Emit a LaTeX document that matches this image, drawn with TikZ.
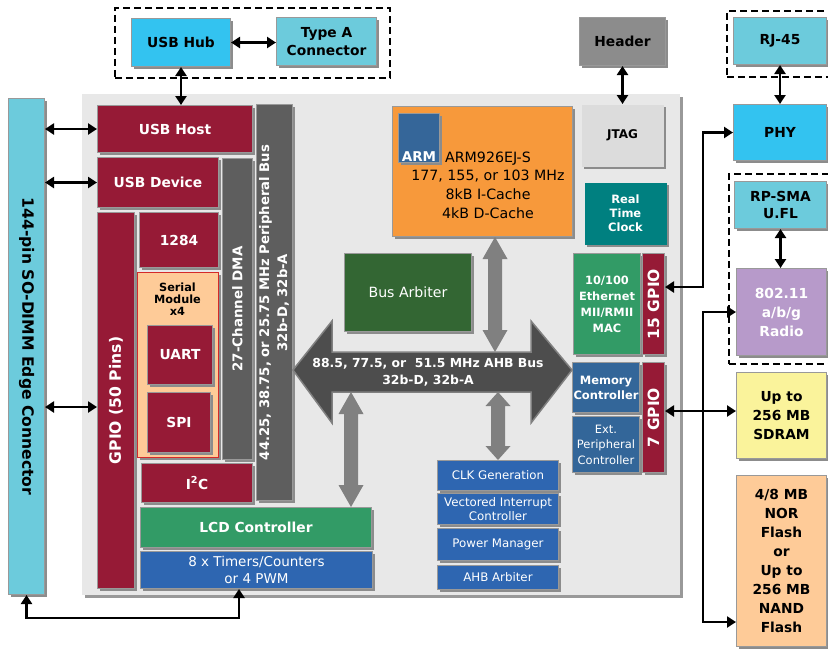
\documentclass[tikz,border=0pt]{standalone}
\usepackage{fontspec}
\setmainfont{DejaVu Sans}
\usetikzlibrary{shadows,arrows.meta,calc}

\definecolor{mcred}{HTML}{961A36}
\definecolor{usbcyan}{HTML}{33C3F0}
\definecolor{conncyan}{HTML}{6CCBDC}
\definecolor{armorange}{HTML}{F7993B}
\definecolor{armblue}{HTML}{356699}
\definecolor{hdrgray}{HTML}{8C8C8C}
\definecolor{jtaggray}{HTML}{DCDCDC}
\definecolor{rtcteal}{HTML}{008080}
\definecolor{ethgreen}{HTML}{329B66}
\definecolor{arbgreen}{HTML}{336633}
\definecolor{memblue}{HTML}{336699}
\definecolor{sysblue}{HTML}{2E66B1}
\definecolor{busgray}{HTML}{5E5E5E}
\definecolor{ahbgray}{HTML}{4D4D4D}
\definecolor{fatgray}{HTML}{808080}
\definecolor{panelgray}{HTML}{E8E8E8}
\definecolor{radiopurple}{HTML}{B79ACA}
\definecolor{sdramyellow}{HTML}{FAF39B}
\definecolor{flashpeach}{HTML}{FECB98}
\definecolor{serialred}{HTML}{D42A2A}

\tikzset{
  blk/.style={anchor=north west, draw=black!40, line width=1pt, inner sep=0pt, align=center,
    drop shadow={shadow xshift=2.5pt, shadow yshift=-2.5pt, opacity=1, fill=black!45}},
  sz/.style 2 args={minimum width=#1pt, minimum height=#2pt},
  wt/.style={text=white},
  bfL/.style={font=\fontsize{13.8}{17.5}\selectfont\bfseries},
  bfXL/.style={font=\fontsize{15.6}{18}\selectfont\bfseries},
  bfM/.style={font=\fontsize{11.5}{15}\selectfont\bfseries},
  rgL/.style={font=\fontsize{14.2}{18.7}\selectfont},
  rgS/.style={font=\fontsize{11.8}{15}\selectfont},
  arr/.style={line width=2.8pt, {Triangle[length=9pt,width=11pt]}-{Triangle[length=9pt,width=11pt]}},
  dbox/.style={draw, line width=1.8pt, dash pattern=on 7pt off 4pt, anchor=north west, inner sep=0pt},
}

% thick gray double arrow between two points on one vertical
\newcommand{\fatarrow}[3][22]{%
  \fill[fatgray] (#2) -- ($(#2)+(12.5,#1)$) -- ($(#2)+(7,#1)$) -- ($(#3)+(7,-#1)$)
    -- ($(#3)+(12.5,-#1)$) -- (#3) -- ($(#3)+(-12.5,-#1)$) -- ($(#3)+(-7,-#1)$)
    -- ($(#2)+(-7,#1)$) -- ($(#2)+(-12.5,#1)$) -- cycle;}

\begin{document}
\begin{tikzpicture}[x=1pt,y=-1pt]
  \useasboundingbox (0,0) rectangle (828,649);

  % groups and module panel
  \node[dbox, sz={275}{70}] (usbgrp) at (114,7) {};
  \node[dbox, sz={120}{66}] (ethgrp) at (726,10) {};
  \node[dbox, sz={120}{190}] (wlangrp) at (728,173) {};
  \node[anchor=north west, inner sep=0pt, fill=panelgray, sz={598}{501},
    drop shadow={shadow xshift=2.5pt, shadow yshift=-2.5pt, opacity=1, fill=black!40}] (panel) at (82,94) {};

  % outside parts
  \node[blk, fill=usbcyan, sz={99}{48}, bfL] (hub) at (131,18) {USB Hub};
  \node[blk, fill=conncyan, sz={100}{48}, bfL] (typea) at (276,17) {Type A\\Connector};
  \node[blk, fill=conncyan, sz={36}{496}, bfXL] (conn) at (8,98) {\rotatebox{-90}{144-pin SO-DIMM Edge Connector}};
  \node[blk, fill=hdrgray, sz={86}{48}, bfL] (header) at (579,17) {Header};
  \node[blk, fill=conncyan, sz={93}{47}, bfL] (rj45) at (733,17) {RJ-45};
  \node[blk, fill=usbcyan, sz={93}{56}, bfL] (phy) at (733,104) {PHY};
  \node[blk, fill=conncyan, sz={92}{47}, bfL] (rpsma) at (734,181) {RP-SMA\\U.FL};
  \node[blk, fill=radiopurple, sz={90}{87}, wt, font=\fontsize{13.8}{19}\selectfont\bfseries] (radio) at (736,268) {802.11\\a/b/g\\Radio};
  \node[blk, fill=sdramyellow, sz={90}{86}, font=\fontsize{13.8}{19}\selectfont\bfseries] (sdram) at (736,372) {Up to\\256 MB\\SDRAM};
  \node[blk, fill=flashpeach, sz={90}{171}, font=\fontsize{13.8}{19}\selectfont\bfseries] (flash) at (736,475) {4/8 MB\\NOR\\Flash\\or\\Up to\\256 MB\\NAND\\Flash};

  % left side peripherals
  \node[blk, fill=mcred, sz={155}{47}, bfL, wt] (usbhost) at (97,105) {USB Host};
  \node[blk, fill=busgray, sz={36}{396}, wt, font=\fontsize{13.2}{18}\selectfont\bfseries] (pbus) at (256,104)
    {\rotatebox{90}{\begin{tabular}{@{}c@{}}44.25, 38.75, or 25.75 MHz Peripheral Bus\\32b-D, 32b-A\end{tabular}}};
  \node[blk, fill=mcred, sz={121}{50}, bfL, wt] (usbdev) at (97,157) {USB Device};
  \node[blk, fill=busgray, sz={30}{301}, wt, font=\fontsize{13.4}{16}\selectfont\bfseries] (dma) at (222,158) {\rotatebox{90}{27-Channel DMA}};
  \node[blk, fill=mcred, sz={37}{376}, bfXL, wt] (gpio) at (97,212) {\rotatebox{90}{GPIO (50 Pins)}};
  \node[blk, fill=mcred, sz={79}{55}, bfL, wt] (p1284) at (139,212) {1284};
  \node[blk, fill=flashpeach, draw=serialred, sz={81}{185}] (serial) at (137,272) {};
  \node[font=\fontsize{11.3}{12.3}\selectfont\bfseries, align=center] (serialtxt) at (177.5,299) {Serial\\Module\\x4};
  \node[blk, fill=mcred, sz={65}{59}, bfL, wt] (uart) at (147,325) {UART};
  \node[blk, fill=mcred, sz={63}{60}, bfL, wt] (spi) at (147,392) {SPI};
  \node[blk, fill=mcred, sz={111}{39}, bfL, wt] (i2c) at (141,463) {I\textsuperscript{2}C};
  \node[blk, fill=ethgreen, sz={231}{40}, bfL, wt] (lcd) at (140,507) {LCD Controller};
  \node[blk, fill=sysblue, sz={232}{37}, wt, font=\fontsize{13.5}{17}\selectfont] (timers) at (140,551) {8 x Timers/Counters\\or 4 PWM};

  % core
  \node[blk, fill=armorange, sz={180}{130}] (arm) at (392,106) {};
  \node[blk, fill=armblue, sz={41}{49}] (armlogo) at (398,113) {};
  \node[wt, font=\fontsize{13.5}{16}\selectfont\bfseries, anchor=south, inner sep=1pt] (armname) at (armlogo.south) {ARM};
  \node[rgL, align=center] (armtxt) at (488,185) {ARM926EJ-S\\177, 155, or 103 MHz\\8kB I-Cache\\4kB D-Cache};
  \node[blk, fill=arbgreen, sz={127}{78}, wt, font=\fontsize{14.1}{17}\selectfont] (busarb) at (344,253) {Bus Arbiter};
  \node[blk, fill=jtaggray, draw=none, sz={82}{62}, font=\fontsize{12}{15}\selectfont\bfseries] (jtag) at (581,104) {JTAG};
  \node[blk, fill=rtcteal, draw=none, sz={82}{62}, wt, font=\fontsize{11.5}{14}\selectfont\bfseries] (rtc) at (584,182) {Real\\Time\\Clock};
  \node[blk, fill=ethgreen, sz={67}{101}, wt, font=\fontsize{11.4}{16}\selectfont\bfseries] (eth) at (573,253) {10/100\\Ethernet\\MII/RMII\\MAC};
  \node[blk, fill=mcred, sz={22}{101}, wt, font=\fontsize{15.5}{18}\selectfont\bfseries] (gpio15) at (642,253) {\rotatebox{90}{15 GPIO}};
  \node[blk, fill=memblue, sz={67}{50}, wt, bfM] (memctl) at (572,362) {Memory\\Controller};
  \node[blk, fill=memblue, sz={67}{56}, wt, font=\fontsize{11.5}{15.5}\selectfont] (extper) at (572,416) {Ext.\\Peripheral\\Controller};
  \node[blk, fill=mcred, sz={22}{110}, wt, font=\fontsize{15.5}{18}\selectfont\bfseries] (gpio7) at (642,362) {\rotatebox{90}{7 GPIO}};
  \node[blk, fill=sysblue, sz={121}{30}, wt, rgS] (clk) at (437,460) {CLK Generation};
  \node[blk, fill=sysblue, sz={121}{31}, wt, font=\fontsize{11.8}{14}\selectfont] (vic) at (437,493) {Vectored Interrupt\\Controller};
  \node[blk, fill=sysblue, sz={121}{32}, wt, rgS] (pwr) at (437,528) {Power Manager};
  \node[blk, fill=sysblue, sz={121}{24}, wt, rgS] (ahbarb) at (437,565) {AHB Arbiter};

  % AHB bus
  \filldraw[fill=ahbgray, draw=fatgray, line width=1.5pt] (293,370) -- (332,321) -- (332,352) -- (531,352)
    -- (531,321) -- (572,370) -- (531,423) -- (531,392) -- (332,392) -- (332,423) -- cycle;
  \node[wt, font=\fontsize{12.4}{17}\selectfont\bfseries, align=center] (ahb) at (428,372) {88.5, 77.5, or~~51.5 MHz AHB Bus\\32b-D, 32b-A};
  \coordinate (ahbN) at (432,352);
  \coordinate (ahbS) at (432,392);

  \coordinate (f1) at (arm.south -| 495,0);
  \coordinate (f2) at (ahbN -| f1);
  \coordinate (f3) at (ahbS -| clk.north);
  \coordinate (f5) at (ahbS -| 351,0);
  \coordinate (f6) at (lcd.north -| f5);
  \fatarrow{f1}{f2}
  \fatarrow[14]{f3}{clk.north}
  \fatarrow{f5}{f6}

  % connections
  \draw[arr] (hub.east) -- (hub.east -| typea.west);
  \draw[arr] (hub.south) -- (hub.south |- usbhost.north);
  \draw[arr] (conn.east |- usbhost.west) -- (usbhost.west);
  \draw[arr] (conn.east |- usbdev.west) -- (usbdev.west);
  \coordinate (gpioArr) at (0,407);
  \draw[arr] (conn.east |- gpioArr) -- (gpio.west |- gpioArr);
  \coordinate (tmrArr) at (239,618);
  \draw[arr] (conn.south) |- (tmrArr) -- (tmrArr |- timers.south);
  \draw[arr] (header.south) -- (header.south |- jtag.north);
  \draw[arr] (rj45.south) -- (rj45.south |- phy.north);
  \draw[arr] (rpsma.south) -- (rpsma.south |- radio.north);
  \coordinate (ethBend) at (703,287);
  \draw[arr] (gpio15.east |- ethBend) -| (ethBend |- phy.west) -- (phy.west);
  \draw[arr] (gpio7.east |- 0,411) -- (sdram.west |- 0,411);
  \coordinate (flashArr) at (703,622);
  \draw[arr] (radio.west) -| (flashArr) -- (flash.west |- flashArr);
\end{tikzpicture}
\end{document}
